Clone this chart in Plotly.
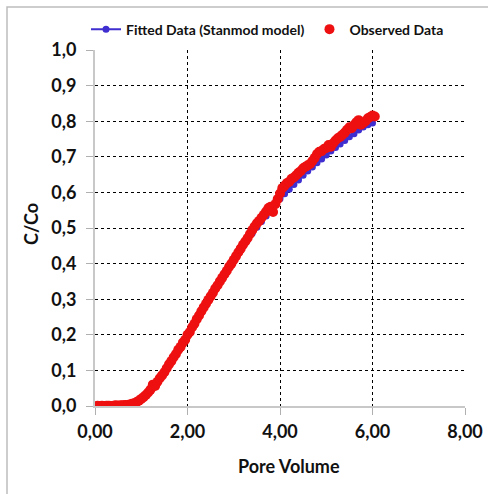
import plotly.graph_objects as go

# Pore volumes and relative concentrations C/Co
obs_pv = [0.05, 0.10, 0.15, 0.20, 0.25, 0.30, 0.35, 0.40, 0.45, 0.50,
          0.55, 0.60, 0.65, 0.70, 0.75, 0.80, 0.85, 0.90, 0.95, 1.00,
          1.05, 1.10, 1.15, 1.20, 1.25, 1.30, 1.35, 1.40, 1.45, 1.50,
          1.55, 1.60, 1.65, 1.70, 1.75, 1.80, 1.85, 1.90, 1.95, 2.00,
          2.05, 2.10, 2.15, 2.20, 2.25, 2.30, 2.35, 2.40, 2.45, 2.50,
          2.55, 2.60, 2.65, 2.70, 2.75, 2.80, 2.85, 2.90, 2.95, 3.00,
          3.05, 3.10, 3.15, 3.20, 3.25, 3.30, 3.35, 3.40, 3.45, 3.50,
          3.55, 3.60, 3.65, 3.70, 3.75, 3.80, 3.85, 3.90, 3.95, 4.00,
          4.05, 4.10, 4.15, 4.20, 4.25, 4.30, 4.35, 4.40, 4.45, 4.50,
          4.55, 4.60, 4.65, 4.70, 4.75, 4.80, 4.85, 4.90, 4.95, 5.00,
          5.05, 5.10, 5.15, 5.20, 5.25, 5.30, 5.35, 5.40, 5.45, 5.50,
          5.55, 5.60, 5.65, 5.70, 5.75, 5.80, 5.85, 5.90, 5.95, 6.00,
          6.05]
obs_c = [0.001, 0.000, 0.001, 0.000, 0.001, 0.001, 0.000, 0.001, 0.002, 0.001,
         0.002, 0.002, 0.003, 0.003, 0.004, 0.006, 0.008, 0.011, 0.015, 0.020,
         0.025, 0.031, 0.038, 0.046, 0.060, 0.056, 0.068, 0.078, 0.086, 0.095,
         0.106, 0.117, 0.126, 0.137, 0.146, 0.158, 0.166, 0.178, 0.186, 0.200,
         0.208, 0.221, 0.231, 0.244, 0.254, 0.266, 0.277, 0.287, 0.298, 0.308,
         0.318, 0.330, 0.339, 0.350, 0.360, 0.370, 0.380, 0.391, 0.400, 0.411,
         0.421, 0.432, 0.442, 0.453, 0.462, 0.472, 0.483, 0.494, 0.504, 0.513,
         0.520, 0.529, 0.537, 0.546, 0.556, 0.560, 0.545, 0.567, 0.581, 0.597,
         0.612, 0.619, 0.626, 0.630, 0.638, 0.642, 0.648, 0.655, 0.660, 0.668,
         0.672, 0.676, 0.680, 0.688, 0.697, 0.708, 0.714, 0.716, 0.722, 0.725,
         0.733, 0.728, 0.738, 0.746, 0.752, 0.756, 0.762, 0.768, 0.776, 0.783,
         0.780, 0.789, 0.797, 0.803, 0.790, 0.795, 0.800, 0.808, 0.812, 0.816,
         0.813]

fit_pv = [0.0, 0.1, 0.2, 0.3, 0.4, 0.5, 0.6, 0.7, 0.8, 0.9,
          1.0, 1.1, 1.2, 1.3, 1.4, 1.5, 1.6, 1.7, 1.8, 1.9,
          2.0, 2.1, 2.2, 2.3, 2.4, 2.5, 2.6, 2.7, 2.8, 2.9,
          3.0, 3.1, 3.2, 3.3, 3.4, 3.5, 3.6, 3.7, 3.8, 3.9,
          4.0, 4.1, 4.2, 4.3, 4.4, 4.5, 4.6, 4.7, 4.8, 4.9,
          5.0, 5.1, 5.2, 5.3, 5.4, 5.5, 5.6, 5.7, 5.8, 5.9,
          6.0]
fit_c = [0.000, 0.000, 0.000, 0.000, 0.0005, 0.001, 0.002, 0.004, 0.007, 0.012,
         0.019, 0.029, 0.042, 0.058, 0.076, 0.096, 0.117, 0.138, 0.160, 0.182,
         0.204, 0.226, 0.248, 0.270, 0.291, 0.312, 0.332, 0.352, 0.372, 0.392,
         0.411, 0.430, 0.449, 0.467, 0.485, 0.502, 0.518, 0.534, 0.549, 0.566,
         0.582, 0.596, 0.609, 0.622, 0.635, 0.648, 0.660, 0.671, 0.683, 0.694,
         0.705, 0.716, 0.726, 0.736, 0.746, 0.756, 0.765, 0.775, 0.784, 0.790,
         0.795]

x_ticks = [0, 2, 4, 6, 8]
y_ticks = [0.0, 0.1, 0.2, 0.3, 0.4, 0.5, 0.6, 0.7, 0.8, 0.9, 1.0]

FONT = "Lato"
BLUE = "#3f2fd0"
RED = "#ee1010"

# plot area in pixels
L, R, T, B = 95, 465, 49.5, 406.5
W, H = R - L, B - T

fig = go.Figure()
fig.add_trace(go.Scatter(
    x=fit_pv, y=fit_c, mode="lines+markers", name="Fitted Data (Stanmod model)",
    line=dict(color=BLUE, width=2), marker=dict(color=BLUE, size=7),
))
fig.add_trace(go.Scatter(
    x=obs_pv, y=obs_c, mode="markers", name="Observed Data",
    marker=dict(color=RED, size=10),
))

axis_common = dict(
    showgrid=True, gridcolor="#000000", gridwidth=1, griddash="dot",
    zeroline=False, showline=True, linecolor="#c8c8c8", linewidth=2,
    ticks="outside", ticklen=7, tickcolor="#b0b0b0", tickwidth=1,
    automargin=False,
    tickfont=dict(family=FONT, size=18, color="#111111", weight="bold"),
)

fig.update_xaxes(range=[0, 8], tickvals=x_ticks, tickformat=".2f",
                 ticklabelstandoff=1, **axis_common)
fig.update_yaxes(range=[0, 1], tickvals=y_ticks, tickformat=".1f",
                 ticklabelstandoff=6, **axis_common)

fig.update_layout(
    width=488, height=494,
    margin=dict(l=L, r=488 - R, t=T, b=494 - B, pad=0, autoexpand=False),
    paper_bgcolor="white", plot_bgcolor="white",
    separators=", ",
    showlegend=True,
    legend=dict(
        orientation="h", x=(86 - L) / W, y=(B - 29) / H,
        xanchor="left", yanchor="middle",
        font=dict(family=FONT, size=14, color="#111111", weight="bold"),
        bgcolor="rgba(0,0,0,0)", borderwidth=0,
    ),
    annotations=[
        dict(text="C/Co", xref="paper", yref="paper",
             x=(31 - L) / W, y=(B - 224) / H,
             xanchor="center", yanchor="middle",
             textangle=-90, showarrow=False,
             font=dict(family=FONT, size=18, color="#111111", weight="bold")),
        dict(text="Pore Volume", xref="paper", yref="paper",
             x=(289 - L) / W, y=(B - 467) / H,
             xanchor="center", yanchor="middle", showarrow=False,
             font=dict(family=FONT, size=18, color="#111111", weight="bold")),
    ],
    shapes=[
        dict(type="rect", xref="paper", yref="paper",
             x0=(7 - L) / W, x1=(520 - L) / W,
             y0=(B - 520) / H, y1=(B - 6.5) / H,
             line=dict(color="#bdbdbd", width=1.5), fillcolor="rgba(0,0,0,0)",
             layer="above"),
    ],
)

fig.write_html("out.html")
